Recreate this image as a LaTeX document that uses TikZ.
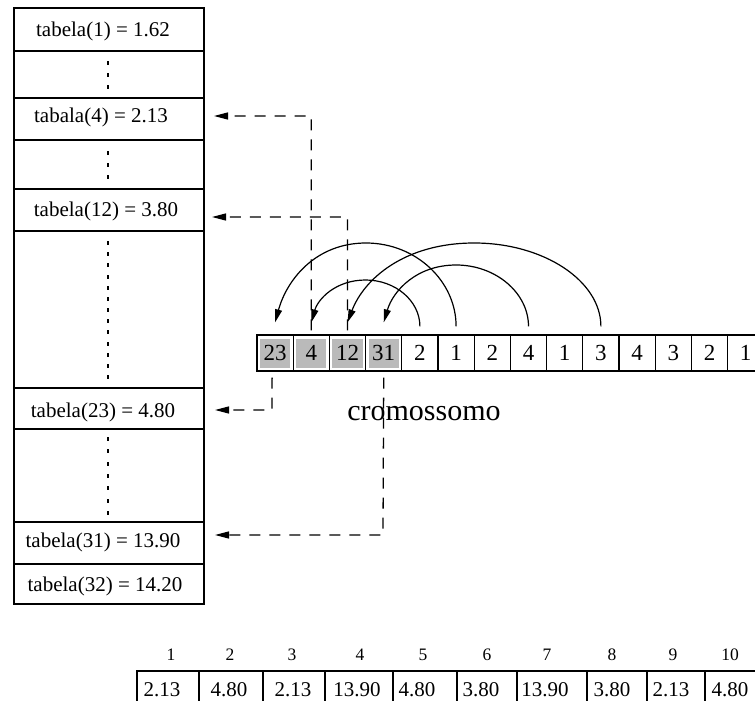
\documentclass[tikz,border=0pt]{standalone}
\usepackage{fontspec}
\setmainfont{Liberation Serif}
\usetikzlibrary{arrows.meta}
\begin{document}
\begin{tikzpicture}[x=1pt,y=-1pt,line width=1.3pt,
  lbl/.style={inner sep=0pt,font=\fontsize{21}{25}\selectfont},
  gene/.style={draw,line width=1.3pt,minimum width=36.2pt,minimum height=36pt,inner sep=0pt,font=\fontsize{23}{27}\selectfont},
  idx/.style={inner sep=0pt,font=\fontsize{17.5}{20}\selectfont},
  val/.style={inner sep=0pt,font=\fontsize{21}{25}\selectfont},
  ptr/.style={dash pattern=on 11pt off 9pt,line width=1.3pt,-{Triangle[length=14pt,width=7pt]}},
  swap/.style={line width=1.2pt,-{Triangle[length=13pt,width=7pt]}}
]
\clip (0,0) rectangle (755,701);
% ---------- left table ----------
\draw (14,8) rectangle (204,604);
\foreach \y in {51,98,140,189,231,388,429,522,564}
  \draw (14,\y) -- (204,\y);
\node[lbl] (t1)  at (103,31)  {tabela(1) = 1.62};
\node[lbl] (t4)  at (101,117) {tabala(4) = 2.13};
\node[lbl] (t12) at (106,211) {tabela(12) = 3.80};
\node[lbl] (t23) at (103,412) {tabela(23) = 4.80};
\node[lbl] (t31) at (103,542) {tabela(31) = 13.90};
\node[lbl] (t32) at (105,586) {tabela(32) = 14.20};
% vertical dots
\foreach \y in {63,75,87,153,165,177}
  \fill (107.2,\y-2) rectangle (108.8,\y+2);
\foreach \i in {0,...,12}
  \fill (107.2,243+11.17*\i-2) rectangle (108.8,243+11.17*\i+2);
\foreach \i in {0,...,6}
  \fill (107.2,439+12.33*\i-2) rectangle (108.8,439+12.33*\i+2);
% ---------- chromosome ----------
\foreach \k in {1,...,4}
  \fill[black!27] (257+36.2*\k-36.2+3,338.5) rectangle (257+36.2*\k-3,367.5);
\foreach \v [count=\k] in {23,4,12,31,2,1,2,4,1,3,4,3,2,1}
  \node[gene] (g\k) at (257+36.2*\k-18.1,353) {\v};
\draw[line width=1.7pt] (257,335) rectangle (775,371);
\node[inner sep=0pt,font=\fontsize{30}{34}\selectfont] (crom) at (424,414) {cromossomo};
% swap arcs
\draw[swap] ([yshift=8pt]g6.north) .. controls (456.1,281) and (415.8,243) .. (366,243)
  .. controls (316.2,243) and (287,279) .. ([yshift=12pt]g1.north);
\draw[swap] ([yshift=8pt]g5.north) .. controls (419.9,301) and (395.5,280) .. (365.6,280)
  .. controls (335.7,280) and (318,299) .. ([yshift=12pt]g2.north);
\draw[swap] ([yshift=8pt]g10.north) .. controls (600.9,281) and (543.9,243) .. (474.2,243)
  .. controls (404.5,243) and (364,279) .. ([yshift=12pt]g3.north);
\draw[swap] ([yshift=8pt]g8.north) .. controls (528.5,293) and (495.9,265) .. (456.1,265)
  .. controls (416.3,265) and (393,291) .. ([yshift=12pt]g4.north);
% pointers to the table
\coordinate (p4)  at (214,116);
\coordinate (p12) at (212,217);
\coordinate (p23) at (215,410);
\coordinate (p31) at (215,535);
\draw[ptr] ([yshift=4pt]g2.north) -- (311.3,116) -- (p4);
\draw[ptr] ([yshift=4pt]g3.north) -- (347.5,217) -- (p12);
\draw[ptr] ([xshift=-3pt,yshift=-6pt]g1.south) -- (272,410) -- (p23);
\draw[ptr] ([yshift=-6pt]g4.south) -- (383,535) -- (p31);
% ---------- bottom table ----------
\draw (137,710) -- (137,671) -- (775,671);
\foreach \x in {199,263,325,393,457,517,587,647,705}
  \draw (\x,671) -- (\x,710);
\foreach \n/\x in {1/171,2/230,3/292,4/360,5/423,6/487,7/547,8/612,9/673,10/730}
  \node[idx] (i\n) at (\x,655) {\n};
\foreach \v/\x [count=\n] in {2.13/162,4.80/229,2.13/293,13.90/357,4.80/417,3.80/481,13.90/545,3.80/612,2.13/671,4.80/730}
  \node[val] (v\n) at (\x,690) {\v};
\end{tikzpicture}
\end{document}
